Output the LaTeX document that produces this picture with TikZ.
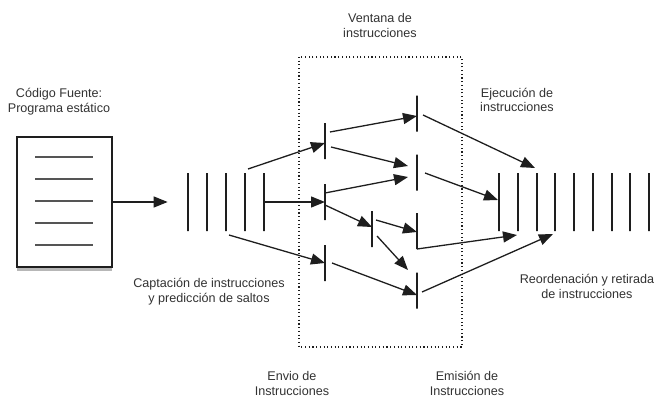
\documentclass[tikz,border=0pt]{standalone}
\usepackage{fontspec}
\setmainfont{Liberation Sans}
\usetikzlibrary{arrows.meta,calc,shadows}
\definecolor{ink}{RGB}{30,30,30}
\definecolor{txt}{RGB}{50,50,50}
\definecolor{docline}{RGB}{85,85,85}
\begin{document}
\begin{tikzpicture}[x=1pt,y=-1pt,
  lbl/.style={text=txt,align=center,font=\fontsize{12.6}{14.5}\selectfont,inner sep=0pt},
  barbase/.style={draw=ink,line width=1.4pt,minimum width=0pt,inner sep=0pt,outer sep=0pt},
  longbar/.style={barbase,minimum height=58pt},
  shortbar/.style={barbase,minimum height=36pt},
  arr/.style={draw=ink,line width=1.3pt,-{Triangle[length=14pt,width=11pt]}},
  docbox/.style={draw=ink,line width=1.3pt,fill=white,minimum width=95pt,minimum height=130pt,inner sep=0pt,
    drop shadow={shadow xshift=0pt,shadow yshift=-4pt,opacity=0.4,fill=black!70}},
  docrule/.style={draw=docline,line width=1.3pt},
  window/.style={draw=ink,line width=1.1pt,dash pattern=on 1.1pt off 2.6pt}
]
\useasboundingbox (0,0) rectangle (664,412);

% source document
\node[docbox] (doc) at (64.5,202) {};
\foreach \yy in {157,179,201,223,245}
  \draw[docrule] (35,\yy) -- (93,\yy);

% fetch bars
\foreach \k/\xx in {1/188,2/207,3/226,4/245,5/264}
  \node[longbar] (f\k) at (\xx,202) {};

% dispatch bars
\node[shortbar] (d1) at (325,141) {};
\node[shortbar] (d2) at (325,202) {};
\node[shortbar] (d3) at (325,263) {};
\node[shortbar] (s) at (372,229) {};

% issue bars
\node[shortbar] (i1) at (417,113.5) {};
\node[shortbar] (i2) at (417,172.5) {};
\node[shortbar] (i3) at (417,231) {};
\node[shortbar] (i4) at (417,290.5) {};

% retire bars
\foreach \k/\xx in {1/499,2/518,3/537,4/555,5/574,6/593,7/612,8/630,9/649}
  \node[longbar] (r\k) at (\xx,202) {};

% window
\draw[window] (299,57) rectangle (462,347);

% arrows
\coordinate (src) at ($(doc.east)+(55,0)$);
\draw[arr] (doc.east) -- (src);
\draw[arr] ($(f4.north)+(3,-4)$) -- ($(d1)+(0,2)$);
\draw[arr] (f5) -- (d2);
\draw[arr] ($(f3.south)+(3,4)$) -- (d3);
\draw[arr] ($(d1)+(5,-9)$) -- ($(i1)+(0,2.5)$);
\draw[arr] ($(d1)+(6,6)$) -- ($(i2)+(-9,-6.5)$);
\draw[arr] ($(d2)+(0,-9)$) -- ($(i2)+(-9,4.5)$);
\draw[arr] ($(d2)+(0,3)$) -- ($(s)+(0,-2)$);
\draw[arr] ($(s)+(4,-9)$) -- ($(i3)+(0,1)$);
\draw[arr] ($(s)+(5,7)$) -- ($(i4)+(-9,-20.5)$);
\draw[arr] ($(d3)+(7,0)$) -- ($(i4)+(0,4.5)$);
\draw[arr] ($(i1)+(6,1.5)$) -- ($(r3.north)+(-2,-5)$);
\draw[arr] ($(i2)+(8,0.5)$) -- ($(r1)+(-1,-2)$);
\draw[arr] (i3.south) -- ($(r2.south)+(-1,4)$);
\draw[arr] ($(i4)+(5,1.5)$) -- ($(r4.south)+(-2,3)$);

% labels
\node[lbl] (tdoc) at (59,101.5) {Código Fuente:\\Programa estático};
\node[lbl] (tfetch) at (209,291.5) {Captación de instrucciones\\y predicción de saltos};
\node[lbl] (twin) at (380,25.5) {Ventana de\\instrucciones};
\node[lbl] (texec) at (517,100) {Ejecución de\\instrucciones};
\node[lbl] (tret) at (587,286.5) {Reordenación y retirada\\de instrucciones};
\node[lbl] (tdisp) at (292,383.5) {Envio de\\Instrucciones};
\node[lbl] (tissue) at (467,383.5) {Emisión de\\Instrucciones};
\end{tikzpicture}
\end{document}
